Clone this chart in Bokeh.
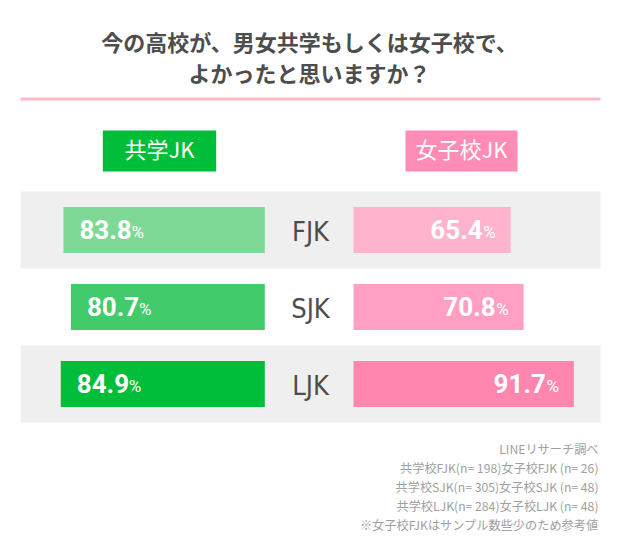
from bokeh.plotting import figure
from bokeh.models import Range1d
from bokeh.core.properties import value
from bokeh.embed import file_html
from bokeh.resources import INLINE

# ---- data ----
categories = ["FJK", "SJK", "LJK"]
coed = [83.8, 80.7, 84.9]          # 共学JK (%)
girls = [65.4, 70.8, 91.7]         # 女子校JK (%)
title_lines = ["今の高校が、男女共学もしくは女子校で、", "よかったと思いますか？"]
legend_labels = ["共学JK", "女子校JK"]
notes = [
    "LINEリサーチ調べ",
    "共学校FJK(n= 198)女子校FJK (n= 26)",
    "共学校SJK(n= 305)女子校SJK (n= 48)",
    "共学校LJK(n= 284)女子校LJK (n= 48)",
    "※女子校FJKはサンプル数些少のため参考値",
]

# ---- styles ----
coed_colors = ["#7FD996", "#42CB6B", "#00BE39"]
girls_colors = ["#FFB3CC", "#FFA0C2", "#FF86AE"]
legend_colors = ["#00BE39", "#FF8CB5"]
JP = value("Noto Sans CJK JP")
NUM = value("Roboto")

# ---- layout ----
W, H = 620, 556
K = 2.403                      # pixels per percent point
X0 = -264.3 / K
def ux(px):
    return X0 + px / K

PINK_BASE = ux(353)
ROW_Y0, PITCH, BAR_H = 229.5, 77, 46
ys = [ROW_Y0 + i * PITCH for i in range(len(categories))]

p = figure(width=W, height=H, x_range=Range1d(X0, X0 + W / K), y_range=Range1d(H, 0),
           output_backend="svg", toolbar_location=None, min_border=0,
           x_axis_location=None, y_axis_location=None)
p.grid.visible = False
p.outline_line_color = None
p.background_fill_color = "white"
p.border_fill_color = "white"

# title
p.text(x=[ux(309)] * 2, y=[40, 71], text=title_lines, text_font=JP, text_font_style="bold",
       text_font_size="22px", text_color="#4D4D4D", text_align="center", text_baseline="middle")
# pink rule
p.segment(x0=ux(20), x1=ux(600), y0=98.5, y1=98.5, line_color="#FCB9C5", line_width=3)

# legend boxes
p.quad(left=[ux(102.3), ux(405)], right=[ux(215.7), ux(517)], top=[130, 130], bottom=[171, 171],
       fill_color=legend_colors, line_color=None)
p.text(x=[ux(159), ux(461)], y=[147.5, 147.5], text=legend_labels, text_font=JP,
       text_font_size="22px", text_color="white", text_align="center", text_baseline="middle")

# gray bands on alternate rows
band_y = [y for i, y in enumerate(ys) if i % 2 == 0]
p.quad(left=ux(20), right=ux(600), top=[y - 38.5 for y in band_y], bottom=[y + 38.5 for y in band_y],
       fill_color="#EFEFEF", line_color=None)

# bars
p.hbar(y=ys, height=BAR_H, left=[-v for v in coed], right=0, fill_color=coed_colors, line_color=None)
p.hbar(y=ys, height=BAR_H, left=PINK_BASE, right=[PINK_BASE + v for v in girls],
       fill_color=girls_colors, line_color=None)

# value labels
num_y = [y - 1 for y in ys]
pct_y = [y + 1.5 for y in ys]
p.text(x=[-v for v in coed], y=num_y, text=[f"{v:.1f}" for v in coed], x_offset=16,
       text_font=NUM, text_font_style="bold", text_font_size="26px", text_color="white",
       text_align="left", text_baseline="middle")
p.text(x=[-v for v in coed], y=pct_y, text=["%"] * 3, x_offset=68,
       text_font=NUM, text_font_size="17px", text_color="white",
       text_align="left", text_baseline="middle")
p.text(x=[PINK_BASE + v for v in girls], y=num_y, text=[f"{v:.1f}" for v in girls], x_offset=-28,
       text_font=NUM, text_font_style="bold", text_font_size="26px", text_color="white",
       text_align="right", text_baseline="middle")
p.text(x=[PINK_BASE + v for v in girls], y=pct_y, text=["%"] * 3, x_offset=-15,
       text_font=NUM, text_font_size="17px", text_color="white",
       text_align="right", text_baseline="middle")

# category labels
p.text(x=[ux(310)] * 3, y=[y + 1 for y in ys], text=categories, text_font=value("DejaVu Sans Condensed"),
       text_font_size="27px", text_color="#4D4D4D", text_align="center", text_baseline="middle")

# footnotes
p.text(x=[ux(598)] * len(notes), y=[448 + i * 19 for i in range(len(notes))], text=notes,
       text_font=JP, text_font_size="12.2px", text_color="#A0A0A0", text_align="right",
       text_baseline="middle")

open("out.html", "w").write(file_html(p, INLINE))
